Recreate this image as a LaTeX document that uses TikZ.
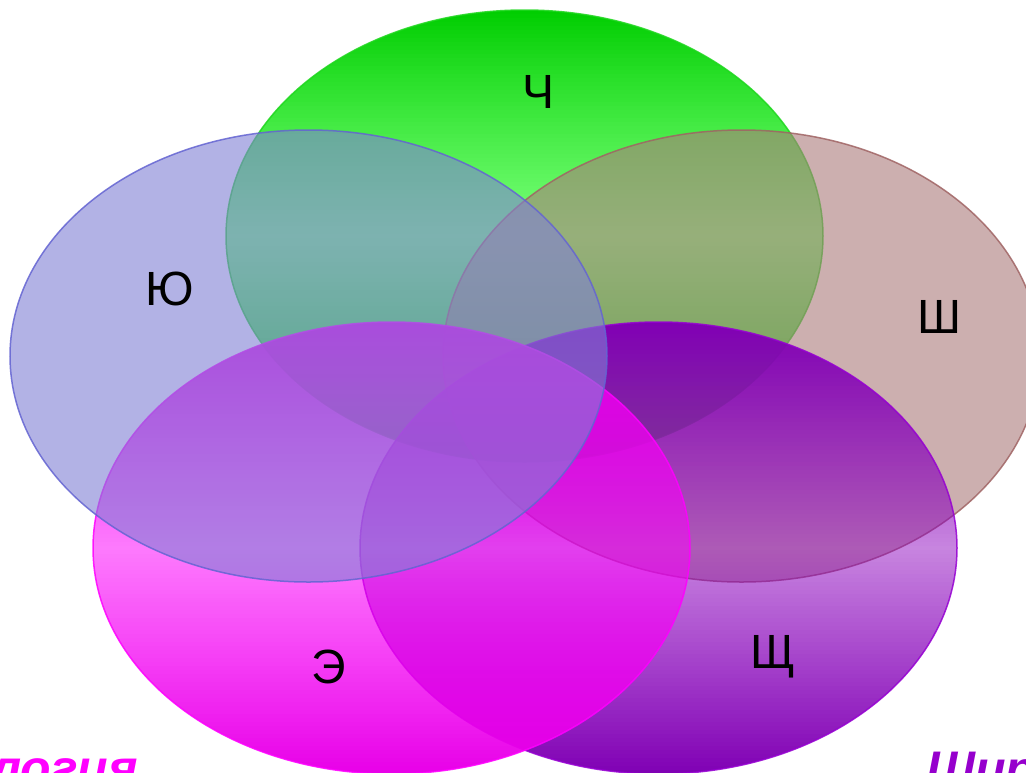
\documentclass[tikz,border=0pt]{standalone}
\usepackage{fontspec}
\setmainfont{Liberation Sans}
\definecolor{cgreen}{RGB}{0,205,0}
\definecolor{cgreenmid}{RGB}{60,255,60}
\definecolor{cgreenline}{RGB}{30,215,30}
\definecolor{cblue}{RGB}{128,128,213}
\definecolor{cblueline}{RGB}{100,100,210}
\definecolor{cbrown}{RGB}{170,123,123}
\definecolor{cbrownline}{RGB}{160,100,100}
\definecolor{cmag}{RGB}{232,0,232}
\definecolor{cmagmid}{RGB}{252,0,252}
\definecolor{cmagline}{RGB}{255,0,255}
\definecolor{cpur}{RGB}{128,0,180}
\definecolor{cpurmid}{RGB}{140,0,190}
\definecolor{cpurline}{RGB}{150,0,210}
\definecolor{ctextpur}{RGB}{150,0,205}
% cx, cy, end colour, middle colour, end opacity, middle opacity
\newcommand\myGradEll[6]{%
  \begin{scope}
  \clip (#1,#2) ellipse [x radius=298.5pt, y radius=226pt];
  \foreach \myi in {0,...,112}{
    \pgfmathsetmacro\mya{#2-226+4*\myi}
    \pgfmathsetmacro\myt{abs((4*\myi+2-226)/226)}
    \pgfmathsetmacro\myop{#6+(#5-#6)*\myt}
    \pgfmathtruncatemacro\mypc{100*\myt}
    \fill[#3!\mypc!#4, fill opacity=\myop] (#1-300,\mya) rectangle (#1+300,\mya+4);
  }
  \end{scope}}
\tikzset{
  lbl/.style={font=\fontsize{48}{48}\selectfont, text=black, inner sep=0pt, anchor=base},
  cut/.style={font=\fontsize{50}{50}\selectfont\bfseries\itshape, inner sep=0pt},
  rim/.style={line width=1.5pt, draw opacity=0.85},
}
\begin{document}
\begin{tikzpicture}[x=1pt,y=-1pt]
\useasboundingbox (0,0) rectangle (1026,772);
\fill[white] (0,0) rectangle (1026,772);
\begin{scope}
\clip (0,0) rectangle (1026,772);
% green
\myGradEll{524.5}{236}{cgreen}{cgreenmid}{1}{0.68}
\draw[rim, cgreenline] (524.5,236) ellipse [x radius=298.5pt, y radius=226pt];
% brown
\fill[cbrown, fill opacity=0.6] (741.5,356) ellipse [x radius=298.5pt, y radius=226pt];
\draw[rim, cbrownline] (741.5,356) ellipse [x radius=298.5pt, y radius=226pt];
% purple
\myGradEll{658.5}{548}{cpur}{cpurmid}{1}{0.48}
\draw[rim, cpurline] (658.5,548) ellipse [x radius=298.5pt, y radius=226pt];
% magenta
\myGradEll{391.5}{548}{cmag}{cmagmid}{1}{0.52}
\draw[rim, cmagline] (391.5,548) ellipse [x radius=298.5pt, y radius=226pt];
% blue
\fill[cblue, fill opacity=0.6] (308.5,356) ellipse [x radius=298.5pt, y radius=226pt];
\draw[rim, cblueline] (308.5,356) ellipse [x radius=298.5pt, y radius=226pt];
% labels
\node[lbl] (ch) at (538,108) {Ч};
\node[lbl] (yu) at (170,305) {Ю};
\node[lbl] (sh) at (939,333) {Ш};
\node[lbl] (ee) at (329,683) {Э};
\node[lbl] (shch) at (773,668) {Щ};
% cut-off words
\node[cut, text=cmagline, anchor=base east] (wleft) at (138,785) {логия};
\node[cut, text=ctextpur, anchor=base west] (wright) at (926,786) {Шир};
\end{scope}
\end{tikzpicture}
\end{document}
